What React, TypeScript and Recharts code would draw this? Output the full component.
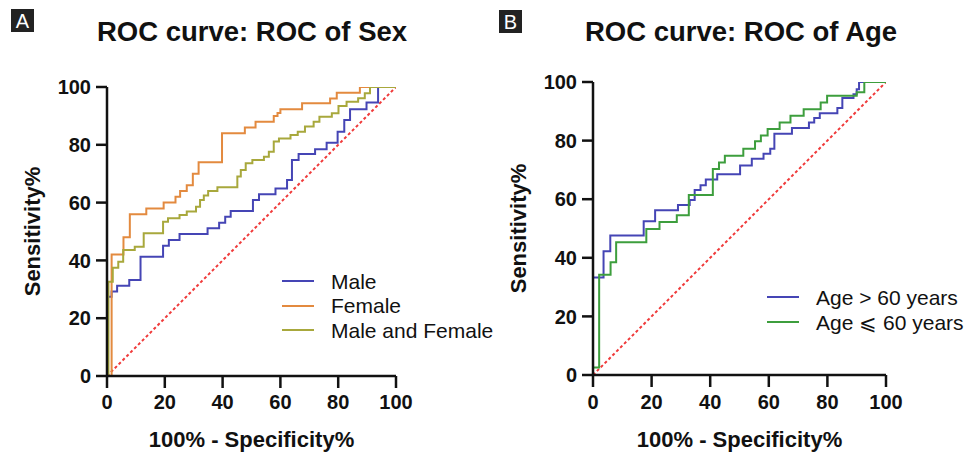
import React from 'react';
import { LineChart, Line, XAxis, YAxis, Legend, Label } from 'recharts';

// ---------- tick values ----------
const xTicks = [0, 20, 40, 60, 80, 100];
const yTicks = [0, 20, 40, 60, 80, 100];

// ---------- Panel A: ROC of Sex ----------
const sexSeriesNames = ['Male', 'Female', 'Male and Female'];

const maleFpr = [0, 0, 1.6, 3.5, 7.7, 11.6, 19.4, 21.4, 25.1, 34.8, 38.8, 40.9, 42.8, 50.5, 52.6, 58.3, 62.3, 64, 66.3, 72, 76, 79.8, 82.1, 84.1, 89.8, 93.8, 100];
const maleSens = [0, 27.4, 29.2, 31.2, 33.2, 41.3, 45.1, 47.1, 49.1, 51.1, 53, 55.1, 57.1, 60.9, 62.9, 64.9, 67.8, 74.7, 76.8, 78.5, 80.7, 84.5, 88.6, 92.3, 94.6, 100, 100];

const femaleFpr = [0, 1.6, 5.7, 7.9, 13.6, 19.6, 23.7, 25.3, 27.6, 29.7, 31.7, 39.8, 47.7, 51.4, 57.7, 59, 60, 67.5, 77.2, 79.5, 87.5, 100];
const femaleSens = [0, 42, 48, 56, 58, 60, 62, 64, 66, 70, 74, 84, 86, 88, 90, 91, 92.3, 94.4, 96, 98, 100, 100];

const bothFpr = [0, 0.5, 2, 3.9, 5.6, 9.6, 12.7, 19.4, 21.1, 25.1, 27.6, 30.8, 32.2, 33.5, 35, 38.2, 45.1, 46.3, 48, 50.3, 54.3, 56, 57.7, 59.5, 63.5, 66, 68.5, 71.5, 73.5, 77.8, 80.1, 82.9, 86.9, 89.2, 91, 100];
const bothSens = [0, 32.6, 37.5, 39.5, 43.6, 44.7, 49.4, 53.4, 54.6, 55.7, 56.9, 58.6, 60.9, 62.5, 64, 65.3, 69, 71.3, 73.6, 74.7, 75.9, 77.6, 81.1, 82.2, 83.4, 84.5, 86.3, 88, 89.7, 90.9, 93.4, 94.9, 96.1, 97.8, 100, 100];

// ---------- Panel B: ROC of Age ----------
const ageSeriesNames = ['Age > 60 years', 'Age \u2A7D 60 years'];

const olderFpr = [0, 0, 3.6, 5.9, 17.3, 21.2, 29, 33, 34.7, 36.7, 38.5, 42.4, 50.2, 54.2, 58.2, 60.5, 61.9, 67.9, 73.7, 75.5, 77.4, 83.4, 85.1, 88.9, 90, 90.8, 100];
const olderSens = [0, 33.3, 42.2, 47.6, 52.5, 56.2, 58, 59.7, 63.1, 64.8, 66.7, 68.5, 71.5, 73.8, 75.5, 77.2, 82.3, 84.3, 86.2, 87.7, 89.3, 91.1, 94.5, 95.8, 97.5, 100, 100];

const youngerFpr = [0, 0, 2.1, 6, 7.9, 18.2, 22.7, 28.6, 32.7, 40.9, 43, 45, 51.3, 55.3, 57.3, 59.6, 63.7, 67.4, 71.9, 77.7, 79.9, 90, 92.6, 100];
const youngerSens = [0, 2.6, 34.2, 38.5, 45.3, 49.8, 52.2, 54.5, 61.4, 70.3, 72.5, 74.8, 77.2, 79.8, 81.7, 84, 86.2, 88.5, 90.7, 93, 95.3, 96.5, 100, 100];

// reference diagonal
const diagFpr = [0, 100];
const diagSens = [0, 100];

const toPoints = (xs: number[], ys: number[]) => xs.map((x, i) => ({ x, y: ys[i] }));

const maleData = toPoints(maleFpr, maleSens);
const femaleData = toPoints(femaleFpr, femaleSens);
const bothData = toPoints(bothFpr, bothSens);
const olderData = toPoints(olderFpr, olderSens);
const youngerData = toPoints(youngerFpr, youngerSens);
const diagData = toPoints(diagFpr, diagSens);

const FONT = 'Arial, "Liberation Sans", Helvetica, sans-serif';
const INK = '#111';

const tickStyle = { fill: INK, fontSize: 20, fontWeight: 700 };
const axisLine = { stroke: INK, strokeWidth: 2.5 };
const tickLine = { stroke: INK, strokeWidth: 2.5 };

const makeYLabel = (cx: number) => (props: any) => {
  const vb = props.viewBox || { y: 0, height: 0 };
  const y = vb.y + vb.height / 2;
  return (
    <text
      x={cx}
      y={y}
      transform={`rotate(-90 ${cx} ${y})`}
      textAnchor="middle"
      dominantBaseline="central"
      style={{ fontSize: 22, fontWeight: 700, fill: INK }}
    >
      Sensitivity%
    </text>
  );
};

const makeXLabel = (dy: number) => (props: any) => {
  const vb = props.viewBox || { x: 0, y: 0, width: 0 };
  return (
    <text
      x={vb.x + vb.width / 2}
      y={vb.y + dy}
      textAnchor="middle"
      style={{ fontSize: 22, fontWeight: 700, fill: INK }}
    >
      100% - Specificity%
    </text>
  );
};

const makeLegend = (rowH: number, order: string[]) => (props: any) => {
  const items = (props.payload || [])
    .filter((p: any) => p.type !== 'none' && order.includes(p.value))
    .slice()
    .sort((a: any, b: any) => order.indexOf(a.value) - order.indexOf(b.value));
  return (
    <div style={{ fontFamily: FONT, width: 260 }}>
      {items.map((it: any) => (
        <div key={it.value} style={{ display: 'flex', alignItems: 'center', height: rowH }}>
          <svg width={32} height={4} style={{ display: 'block', flexShrink: 0 }}>
            <line x1={0} y1={2} x2={32} y2={2} stroke={it.color} strokeWidth={2} />
          </svg>
          <span style={{ marginLeft: 17, fontSize: 21, color: INK, whiteSpace: 'nowrap', lineHeight: 1, flexShrink: 0 }}>
            {it.value}
          </span>
        </div>
      ))}
    </div>
  );
};

const stepLine = (data: any[], name: string, color: string) => (
  <Line
    key={name}
    data={data}
    dataKey="y"
    name={name}
    type="stepAfter"
    stroke={color}
    strokeWidth={2}
    dot={false}
    activeDot={false}
    isAnimationActive={false}
  />
);

const diagLine = (
  <Line
    data={diagData}
    dataKey="y"
    name="diagonal"
    type="linear"
    stroke="#f03a3a"
    strokeWidth={2}
    strokeDasharray="3 2.5"
    dot={false}
    activeDot={false}
    legendType="none"
    isAnimationActive={false}
  />
);

export default function App() {
  return (
    <div
      style={{
        position: 'absolute',
        left: 0,
        top: 0,
        width: 970,
        height: 455,
        background: '#fff',
        fontFamily: FONT,
        overflow: 'hidden',
      }}
    >
      {/* Panel A */}
      <div style={{ position: 'absolute', left: 0, top: 0 }}>
        <LineChart width={485} height={455} margin={{ top: 87, right: 89, bottom: 19, left: 0 }}>
          <XAxis
            type="number"
            dataKey="x"
            domain={[0, 100]}
            ticks={xTicks}
            allowDataOverflow
            height={60}
            tickSize={12}
            tickMargin={7}
            axisLine={axisLine}
            tickLine={tickLine}
            tick={tickStyle}
            label={<Label content={makeXLabel(71)} />}
          />
          <YAxis
            type="number"
            domain={[0, 100]}
            ticks={yTicks}
            allowDataOverflow
            width={107}
            tickSize={11}
            tickMargin={5}
            axisLine={axisLine}
            tickLine={tickLine}
            tick={tickStyle}
            label={<Label content={makeYLabel(32)} />}
          />
          {diagLine}
          {stepLine(maleData, sexSeriesNames[0], '#4545b5')}
          {stepLine(femaleData, sexSeriesNames[1], '#e38a3f')}
          {stepLine(bothData, sexSeriesNames[2], '#a8a83c')}
          <Legend
            layout="vertical"
            align="center"
            verticalAlign="middle"
            content={makeLegend(24.5, sexSeriesNames)}
            wrapperStyle={{ left: 282, top: 269, width: 260, height: 75 }}
          />
        </LineChart>
      </div>

      {/* Panel B */}
      <div style={{ position: 'absolute', left: 485, top: 0 }}>
        <LineChart width={485} height={455} margin={{ top: 82, right: 84, bottom: 20, left: 0 }}>
          <XAxis
            type="number"
            dataKey="x"
            domain={[0, 100]}
            ticks={xTicks}
            allowDataOverflow
            height={60}
            tickSize={12}
            tickMargin={8}
            axisLine={axisLine}
            tickLine={tickLine}
            tick={tickStyle}
            label={<Label content={makeXLabel(72)} />}
          />
          <YAxis
            type="number"
            domain={[0, 100]}
            ticks={yTicks}
            allowDataOverflow
            width={108}
            tickSize={11}
            tickMargin={5}
            axisLine={axisLine}
            tickLine={tickLine}
            tick={tickStyle}
            label={<Label content={makeYLabel(33)} />}
          />
          {diagLine}
          {stepLine(olderData, ageSeriesNames[0], '#4545b5')}
          {stepLine(youngerData, ageSeriesNames[1], '#3d9e3d')}
          <Legend
            layout="vertical"
            align="center"
            verticalAlign="middle"
            content={makeLegend(25, ageSeriesNames)}
            wrapperStyle={{ left: 282, top: 284.5, width: 200, height: 50 }}
          />
        </LineChart>
      </div>

      {/* Titles and panel tags */}
      <svg
        width={970}
        height={455}
        style={{ position: 'absolute', left: 0, top: 0, pointerEvents: 'none' }}
      >
        <rect x={11} y={9} width={23} height={23} fill="#222" />
        <text x={22.5} y={28} textAnchor="middle" style={{ fontSize: 20, fill: '#fff' }}>A</text>
        <rect x={499} y={10} width={23} height={23} fill="#222" />
        <text x={510.5} y={29} textAnchor="middle" style={{ fontSize: 20, fill: '#fff' }}>B</text>
        <text x={252} y={41} textAnchor="middle" style={{ fontSize: 27.5, fontWeight: 700, fill: INK }}>
          ROC curve: ROC of Sex
        </text>
        <text x={741} y={41} textAnchor="middle" style={{ fontSize: 27.5, fontWeight: 700, fill: INK }}>
          ROC curve: ROC of Age
        </text>
      </svg>
    </div>
  );
}
